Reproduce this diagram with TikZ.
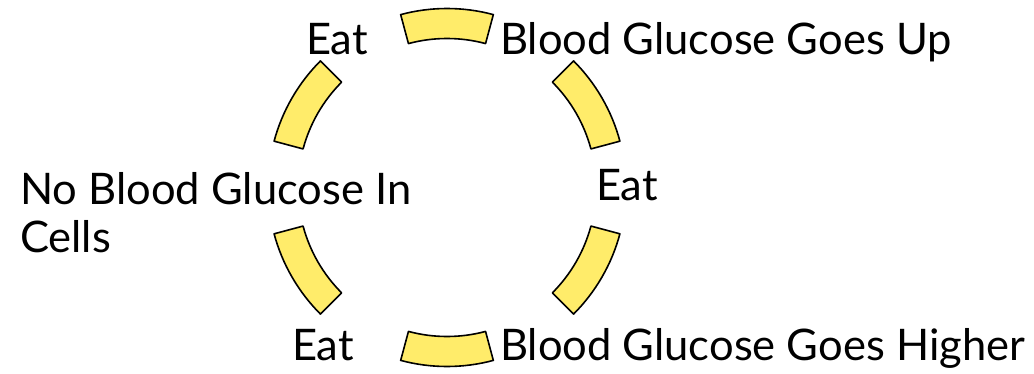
\documentclass[tikz,border=0pt]{standalone}
\usepackage{fontspec}
\setmainfont{Lato}
\definecolor{segyellow}{HTML}{FFEC6A}
\begin{document}
\begin{tikzpicture}[x=1pt,y=1pt,
  seg/.style={draw=black,fill=segyellow,line width=1.6pt,line join=round},
  lbl/.style={anchor=base west,inner sep=0pt,outer sep=0pt,font=\fontsize{43.5}{48}\selectfont,align=left}]
\useasboundingbox (0,0) rectangle (1034,373);
\coordinate (c) at (447,185.5);
\begin{scope}[shift={(c)}]
\foreach \m in {90,30,-30,-90,210,150}{
  \draw[seg] (\m-15:179) arc[start angle=\m-15,end angle=\m+15,radius=179]
    -- (\m+15:149) arc[start angle=\m+15,end angle=\m-15,radius=149] -- cycle;
}
\end{scope}
\node[lbl] (eat1) at (306,318) {Eat};
\node[lbl] (up) at (500,318) {Blood Glucose Goes Up};
\node[lbl] (eat2) at (596,173) {Eat};
\node[lbl,anchor=north west] (none) at (20,201) {No Blood Glucose In\\Cells};
\node[lbl] (eat3) at (292,13) {Eat};
\node[lbl] (higher) at (500,13) {Blood Glucose Goes Higher};
\end{tikzpicture}
\end{document}
